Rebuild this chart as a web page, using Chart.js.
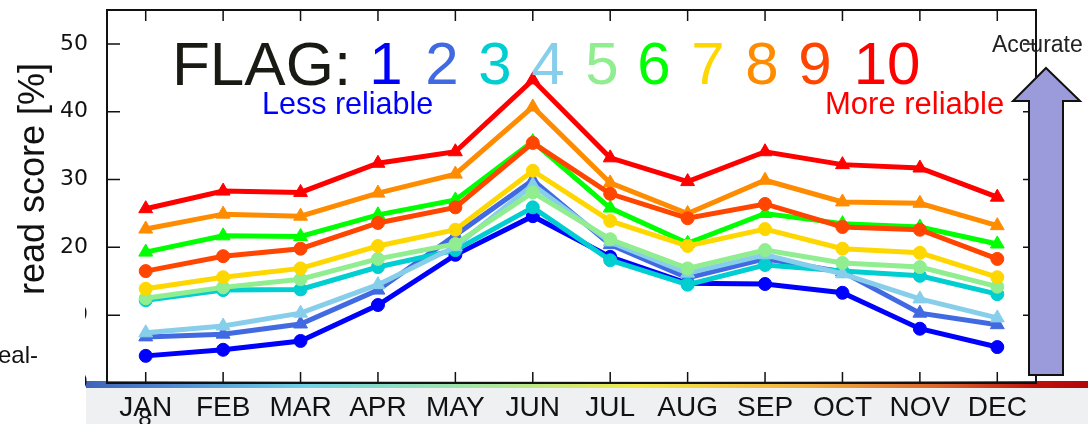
<!DOCTYPE html>
<html>
<head>
<meta charset="utf-8">
<script src="https://cdn.jsdelivr.net/npm/chart.js@4"></script>
<style>
  html, body { margin: 0; padding: 0; background: #fff; }
  canvas { display: block; }
</style>
</head>
<body>
<canvas id="flagChart" width="1088" height="424"></canvas>
<script>
// months on the x axis
const months = ['JAN', 'FEB', 'MAR', 'APR', 'MAY', 'JUN', 'JUL', 'AUG', 'SEP', 'OCT', 'NOV', 'DEC'];

// spread score [%] per flag
const flag1  = [4.0, 4.9, 6.2, 11.5, 18.9, 24.6, 18.6, 14.7, 14.6, 13.3, 8.0, 5.3];
const flag2  = [6.8, 7.2, 8.7, 13.7, 21.8, 29.9, 20.4, 15.5, 18.3, 16.4, 10.3, 8.6];
const flag3  = [12.2, 13.7, 13.8, 17.1, 19.6, 25.9, 18.1, 14.5, 17.4, 16.5, 15.8, 13.1];
const flag4  = [7.4, 8.4, 10.3, 14.5, 20.1, 29.2, 20.8, 16.2, 18.9, 16.1, 12.4, 9.6];
const flag5  = [12.5, 14.1, 15.3, 18.3, 20.5, 28.1, 21.2, 16.9, 19.6, 17.7, 17.1, 14.2];
const flag6  = [19.3, 21.7, 21.6, 24.8, 27.0, 35.6, 25.8, 20.6, 25.0, 23.5, 23.0, 20.5];
const flag7  = [13.9, 15.6, 16.9, 20.2, 22.6, 31.3, 23.9, 20.2, 22.7, 19.8, 19.2, 15.6];
const flag8  = [22.7, 24.9, 24.6, 28.0, 30.8, 40.7, 29.5, 25.0, 29.9, 26.7, 26.5, 23.2];
const flag9  = [16.5, 18.7, 19.8, 23.6, 25.9, 35.4, 27.9, 24.3, 26.4, 23.0, 22.6, 18.3];
const flag10 = [25.7, 28.3, 28.1, 32.4, 34.1, 44.7, 33.2, 29.7, 34.1, 32.2, 31.7, 27.4];

const flagLabels = ['1', '2', '3', '4', '5', '6', '7', '8', '9', '10'];
const flagColors = ['#0000ff', '#4169e1', '#00ced1', '#87ceeb', '#90ee90',
                    '#00ff00', '#ffd700', '#ff8c00', '#ff4500', '#ff0000'];
const yTicks = [0, 10, 20, 30, 40, 50];

const allFlags = [flag1, flag2, flag3, flag4, flag5, flag6, flag7, flag8, flag9, flag10];

const FONT = '"Liberation Sans", Arial, sans-serif';

const datasets = allFlags.map((vals, i) => {
  const tri = (i % 2 === 1);
  return {
    label: 'FLAG ' + flagLabels[i],
    data: vals,
    borderColor: flagColors[i],
    backgroundColor: flagColors[i],
    pointBackgroundColor: flagColors[i],
    pointBorderColor: flagColors[i],
    borderWidth: 5,
    pointStyle: tri ? 'triangle' : 'circle',
    pointRadius: tri ? 8 : 6.5,
    pointBorderWidth: 1,
    tension: 0,
    fill: false,
    order: 10 - i   // flag 10 drawn on top
  };
});

// background, bottom strip and colour bar
const backdrop = {
  id: 'backdrop',
  beforeDraw(chart) {
    const ctx = chart.ctx;
    ctx.save();
    ctx.fillStyle = '#ffffff';
    ctx.fillRect(0, 0, chart.width, chart.height);
    ctx.fillStyle = '#eef0f2';
    ctx.fillRect(86, 388, chart.width - 86, chart.height - 388);
    const g = ctx.createLinearGradient(86, 0, 1088, 0);
    g.addColorStop(0.00, '#3f63b8');
    g.addColorStop(0.08, '#4f86cf');
    g.addColorStop(0.22, '#6fd3e3');
    g.addColorStop(0.40, '#a8e6a0');
    g.addColorStop(0.55, '#f2ea48');
    g.addColorStop(0.72, '#f0b040');
    g.addColorStop(0.86, '#d8602a');
    g.addColorStop(0.95, '#c0100c');
    g.addColorStop(1.00, '#b00808');
    ctx.fillStyle = g;
    ctx.fillRect(86, 381, chart.width - 86, 7);
    ctx.restore();
  }
};

// frame, inward ticks, annotations, arrow
const overlay = {
  id: 'overlay',
  afterDraw(chart) {
    const ctx = chart.ctx;
    const a = chart.chartArea;
    const xs = chart.scales.x;
    const ys = chart.scales.y;
    ctx.save();

    // frame
    ctx.strokeStyle = '#111';
    ctx.lineWidth = 2;
    ctx.strokeRect(a.left, a.top, a.right - a.left, a.bottom - a.top);

    // inward tick marks
    ctx.lineWidth = 1.5;
    ctx.beginPath();
    xs.ticks.forEach((t, i) => {
      const px = xs.getPixelForTick(i);
      ctx.moveTo(px, a.bottom); ctx.lineTo(px, a.bottom - 11);
      ctx.moveTo(px, a.top); ctx.lineTo(px, a.top + 11);
    });
    yTicks.forEach(v => {
      const py = ys.getPixelForValue(v);
      ctx.moveTo(a.left, py); ctx.lineTo(a.left + 13, py);
      ctx.moveTo(a.right, py); ctx.lineTo(a.right - 13, py);
    });
    ctx.stroke();

    // rotated axis title (cut at bottom)
    ctx.save();
    ctx.translate(44, 63);
    ctx.rotate(-Math.PI / 2);
    ctx.font = '36px ' + FONT;
    ctx.fillStyle = '#111';
    ctx.textAlign = 'right';
    ctx.textBaseline = 'alphabetic';
    ctx.fillText('read score [%]', 0, 0);
    ctx.restore();

    // white panel covering the lower left
    ctx.fillStyle = '#ffffff';
    ctx.fillRect(0, 296, 85, chart.height - 296);
    ctx.fillStyle = '#111';
    ctx.font = '24px ' + FONT;
    ctx.textAlign = 'right';
    ctx.fillText('eal-', 38, 363);

    ctx.font = '24px ' + FONT;
    ctx.textAlign = 'center';
    ctx.fillText('8', 145, 426);

    // FLAG: 1 ... 10
    ctx.textAlign = 'left';
    ctx.textBaseline = 'alphabetic';
    ctx.font = '62px ' + FONT;
    ctx.fillStyle = '#1a1a14';
    ctx.fillText('FLAG:', 172, 85);
    const digitX = [386, 442, 495, 548, 602, 654, 708, 762, 815, 887];
    ctx.font = '60px ' + FONT;
    ctx.textAlign = 'center';
    flagLabels.forEach((lab, i) => {
      ctx.fillStyle = flagColors[i];
      ctx.fillText(lab, digitX[i], 84);
    });

    ctx.textAlign = 'left';
    ctx.font = '30.5px ' + FONT;
    ctx.fillStyle = '#0000ff';
    ctx.fillText('Less reliable', 262, 114);
    ctx.font = '31px ' + FONT;
    ctx.fillStyle = '#ff0000';
    ctx.fillText('More reliable', 825, 114);

    ctx.font = '23px ' + FONT;
    ctx.fillStyle = '#222';
    ctx.fillText('Accurate', 992, 52);

    // big arrow
    ctx.beginPath();
    ctx.moveTo(1046, 68);
    ctx.lineTo(1080, 101);
    ctx.lineTo(1063, 101);
    ctx.lineTo(1063, 375);
    ctx.lineTo(1029, 375);
    ctx.lineTo(1029, 101);
    ctx.lineTo(1013, 101);
    ctx.closePath();
    ctx.fillStyle = '#9b9bdb';
    ctx.fill();
    ctx.strokeStyle = '#111';
    ctx.lineWidth = 2;
    ctx.stroke();

    ctx.restore();
  }
};

new Chart(document.getElementById('flagChart'), {
  type: 'line',
  data: { labels: months, datasets: datasets },
  options: {
    responsive: false,
    animation: false,
    devicePixelRatio: 1,
    layout: { padding: { top: 10, right: 52, left: 0, bottom: 0 } },
    plugins: {
      legend: { display: false },
      tooltip: { enabled: false },
      title: { display: false }
    },
    scales: {
      x: {
        offset: true,
        grid: { display: false, drawTicks: false },
        border: { display: false },
        ticks: {
          color: '#111',
          padding: 8,
          maxRotation: 0,
          autoSkip: false,
          font: { family: FONT, size: 28 }
        },
        afterFit: s => {
          s.height = 41;
          s.paddingLeft = 0; s.paddingRight = 0;
        }
      },
      y: {
        min: 0,
        max: 55,
        grid: { display: false, drawTicks: false },
        border: { display: false },
        afterBuildTicks: s => { s.ticks = yTicks.map(v => ({ value: v })); },
        ticks: {
          color: '#111',
          padding: 19,
          font: { family: '"DejaVu Sans", sans-serif', size: 22 }
        },
        afterFit: s => {
          s.width = 107;
          s.paddingTop = 0; s.paddingBottom = 0;
        }
      }
    }
  },
  plugins: [backdrop, overlay]
});
</script>
</body>
</html>
